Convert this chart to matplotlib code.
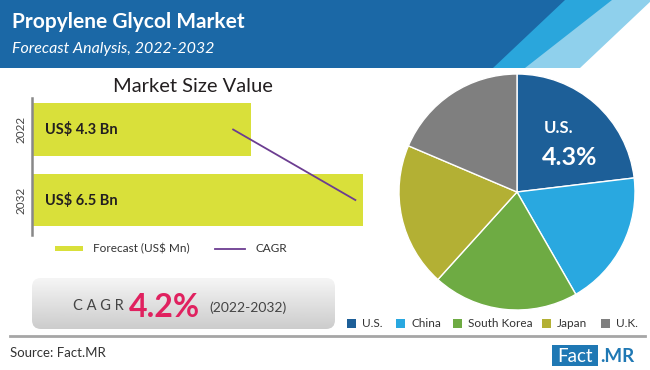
import matplotlib
matplotlib.use("Agg")
import matplotlib.pyplot as plt
import numpy as np
from matplotlib.patches import Polygon, Rectangle, FancyBboxPatch

plt.rcParams['font.family'] = ['Lato', 'DejaVu Sans']

# data
years = ['2022', '2032']
market_value = [4.3, 6.5]          # US$ Bn
bar_labels = ['US$ 4.3 Bn', 'US$ 6.5 Bn']
cagr_line = [3.95, 6.35]
regions = ['U.S.', 'China', 'South Korea', 'Japan', 'U.K.']
region_share = [23.1, 18.6, 20.0, 19.7, 18.6]
region_colors = ['#1d5f98', '#29a8e0', '#6eab43', '#b3b034', '#7f7f7f']

W, H = 650, 370
fig = plt.figure(figsize=(6.5, 3.7), dpi=100)


def px(x0, y0, x1, y1):
    # pixel box -> figure fraction
    return [x0 / W, 1 - y1 / H, (x1 - x0) / W, (y1 - y0) / H]


bg = fig.add_axes([0, 0, 1, 1], zorder=0)
bg.set_xlim(0, W)
bg.set_ylim(H, 0)
bg.axis('off')

# header banner
bg.add_patch(Polygon([(0, 0), (652, 0), (580, 68), (0, 68)], color='#8fd0ec', lw=0))
bg.add_patch(Polygon([(0, 0), (612, 0), (525, 68), (0, 68)], color='#2aa6dc', lw=0))
bg.add_patch(Polygon([(0, 0), (565, 0), (493, 68), (0, 68)], color='#1b68a6', lw=0))
bg.text(12, 28, 'Propylene Glycol Market', color='white', fontsize=15,
        fontweight='bold', va='baseline')
bg.text(12, 53, 'Forecast Analysis, 2022-2032', color='white', fontsize=11.5,
        fontstyle='italic', va='baseline')

bg.text(193, 87, 'Market Size Value', fontsize=14.5, color='#231f20',
        ha='center', va='center')

# legend for bar chart
bg.add_patch(Rectangle((55, 246), 28, 5, color='#d9e03a', lw=0))
bg.text(93, 248.5, 'Forecast (US$ Mn)', fontsize=8.5, color='#333333', va='center')
bg.plot([215, 245], [248.5, 248.5], color='#6c3d91', lw=1.3)
bg.text(255, 248.5, 'CAGR', fontsize=8.5, color='#333333', va='center')

# CAGR box with gradient
box = FancyBboxPatch((32, 278), 303, 51, boxstyle='round,pad=0,rounding_size=9',
                     facecolor='none', edgecolor='none')
bg.add_patch(box)
grad = np.linspace(0.96, 0.80, 100).reshape(-1, 1)
im = bg.imshow(grad, cmap='gray', vmin=0, vmax=1, extent=[32, 335, 329, 278],
               aspect='auto', zorder=1)
im.set_clip_path(box)
bg.set_xlim(0, W)
bg.set_ylim(H, 0)
bg.text(73, 310, 'C A G R', fontsize=10.5, color='#444444', va='baseline', zorder=2)
bg.text(129, 317, '4.2%', fontsize=23, color='#e0215f', fontweight='bold',
        va='baseline', zorder=2)
bg.text(209, 312, '(2022-2032)', fontsize=10, color='#444444', va='baseline', zorder=2)

# separator and footer
bg.plot([10, 645], [336, 336], color='#a6a6a6', lw=2)
bg.text(10, 353, 'Source: Fact.MR', fontsize=9.5, color='#333333', va='center')
bg.add_patch(Rectangle((552, 345), 46, 21, color='#1f78b4', lw=0))
bg.text(575, 356, 'Fact', fontsize=13.5, color='white', ha='center', va='center')
bg.text(600, 356, '.MR', fontsize=13.5, color='#1f78b4', fontweight='bold', va='center')

# pie legend
leg_x = [347, 396, 453, 542, 601]
for xx, name, c in zip(leg_x, regions, region_colors):
    bg.add_patch(Rectangle((xx, 319), 9, 9, color=c, lw=0))
    bg.text(xx + 15, 323.5, name, fontsize=8.5, color='#333333', va='center')

# bar chart
ax = fig.add_axes(px(32, 98, 380, 235), zorder=2)
ax.patch.set_alpha(0)
ypos = np.arange(len(years))
ax.barh(ypos, market_value, height=0.75, color='#d9e03a')
ax.plot(cagr_line, ypos, color='#6c3d91', lw=1.3)
for i, lab in enumerate(bar_labels):
    ax.text(0.26, i, lab, fontsize=10.5, fontweight='bold', color='#231f20', va='center')
ax.set_xlim(0, 6.5 * 348 / 331)
ax.set_ylim(1.496, -0.447)
ax.set_yticks(ypos)
ax.set_yticklabels(years, rotation=90, va='center', fontsize=8.5, color='#444444')
ax.tick_params(axis='y', length=0, pad=4)
ax.set_xticks([])
for s in ['top', 'right', 'bottom']:
    ax.spines[s].set_visible(False)
ax.spines['left'].set_color('#888888')
ax.spines['left'].set_linewidth(1.8)

# pie
pax = fig.add_axes(px(399, 74, 635, 310), zorder=2)
pax.pie(region_share, colors=region_colors, startangle=90, counterclock=False,
        wedgeprops=dict(edgecolor='white', linewidth=1))
pax.set_xlim(-1, 1)
pax.set_ylim(-1, 1)
pax.text(0.35, 0.54, 'U.S.', color='white', fontsize=12, fontweight='bold',
         ha='center', va='center')
pax.text(0.45, 0.29, '4.3%', color='white', fontsize=18, fontweight='bold',
         ha='center', va='center')

fig.savefig('out.png', dpi=100)
